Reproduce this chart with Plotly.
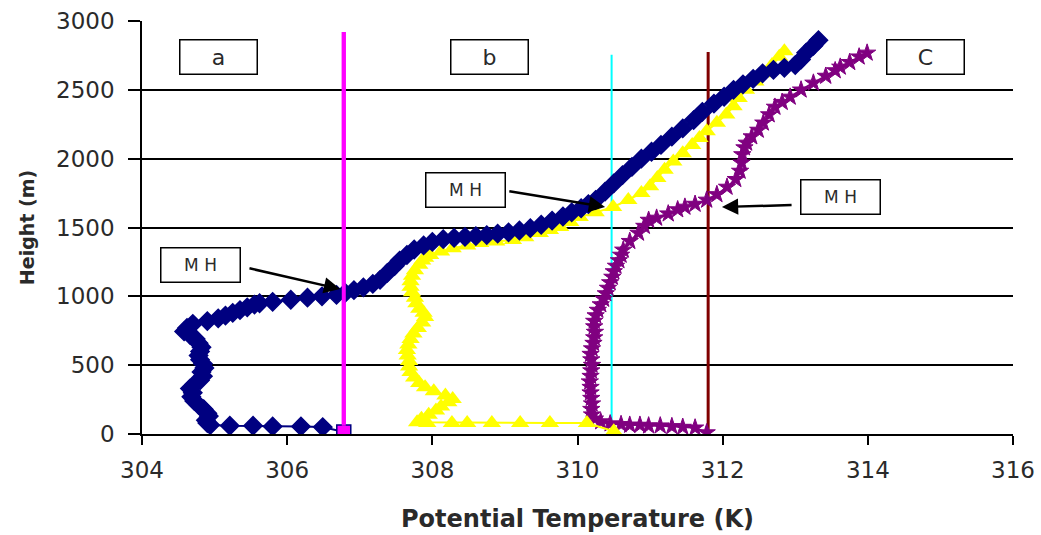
import plotly.graph_objects as go

# ---------------- data ----------------
# Profile a (navy, diamonds): potential temperature (K) and height (m)
a_theta = [306.78, 306.49, 306.19, 305.80, 305.53, 305.21, 304.94, 304.90, 304.88, 304.92,
           304.90, 304.85, 304.78, 304.72, 304.68, 304.70, 304.66, 304.72, 304.80, 304.84,
           304.82, 304.86, 304.84, 304.80, 304.78, 304.80, 304.82, 304.78, 304.74, 304.66,
           304.58, 304.62, 304.70, 304.90, 305.05, 305.15, 305.25, 305.35, 305.45, 305.55,
           305.62, 305.80, 306.05, 306.28, 306.48, 306.68, 306.80, 306.92, 307.05, 307.18,
           307.28, 307.38, 307.48, 307.55, 307.65, 307.75, 307.88, 308.00, 308.15, 308.30,
           308.45, 308.60, 308.75, 308.90, 309.05, 309.20, 309.35, 309.50, 309.65, 309.80,
           309.92, 310.05, 310.15, 310.25, 310.38, 310.50, 310.62, 310.75, 310.88, 311.02,
           311.15, 311.30, 311.45, 311.60, 311.72, 311.88, 312.02, 312.15, 312.28, 312.42,
           312.55, 312.70, 312.85, 313.00, 313.08, 313.15, 313.25, 313.32]
a_height = [15, 50, 55, 55, 60, 60, 65, 80, 100, 130,
            150, 180, 210, 240, 270, 300, 330, 360, 390, 420,
            450, 480, 510, 540, 570, 600, 630, 660, 690, 720,
            745, 770, 800, 820, 840, 860, 880, 900, 920, 940,
            950, 960, 975, 990, 1000, 1010, 1025, 1045, 1065, 1090,
            1120, 1170, 1220, 1260, 1300, 1340, 1370, 1395, 1415, 1425,
            1432, 1438, 1445, 1455, 1465, 1478, 1495, 1520, 1550, 1580,
            1610, 1640, 1670, 1700, 1760, 1820, 1880, 1940, 2000, 2050,
            2100, 2160, 2220, 2280, 2340, 2400, 2450, 2500, 2540, 2580,
            2620, 2645, 2660, 2680, 2720, 2770, 2820, 2860]

# Profile b (yellow, triangles)
b_theta = [310.50, 310.13, 309.62, 309.21, 308.82, 308.48, 308.27, 307.93, 307.79, 307.85,
           307.95, 308.05, 308.12, 308.22, 308.28, 308.18, 308.02, 307.90, 307.82, 307.75,
           307.70, 307.68, 307.68, 307.66, 307.65, 307.67, 307.70, 307.74, 307.80, 307.86,
           307.90, 307.88, 307.82, 307.78, 307.76, 307.72, 307.70, 307.70, 307.72, 307.76,
           307.82, 307.86, 307.90, 307.97, 308.12, 308.28, 308.48, 308.66, 308.88, 309.11,
           309.28, 309.48, 309.62, 309.76, 309.90, 310.03, 310.25, 310.49, 310.70, 310.88,
           311.00, 311.10, 311.20, 311.32, 311.45, 311.58, 311.68, 311.78, 311.92, 312.05,
           312.15, 312.22, 312.32, 312.45, 312.58, 312.68, 312.78, 312.85]
b_height = [20, 80, 80, 80, 80, 80, 80, 80, 85, 110,
            140, 170, 200, 230, 255, 280, 310, 340, 370, 410,
            450, 490, 530, 570, 610, 650, 690, 730, 770, 810,
            850, 880, 910, 950, 990, 1030, 1070, 1110, 1150, 1190,
            1230, 1260, 1280, 1300, 1325, 1350, 1370, 1387, 1398, 1409,
            1430, 1460, 1482, 1504, 1540, 1576, 1610, 1649, 1700, 1750,
            1800, 1860, 1920, 1980, 2040, 2100, 2150, 2200, 2260, 2320,
            2380, 2440, 2500, 2560, 2620, 2680, 2740, 2780]

# Profile c (purple, stars)
c_theta = [311.78, 311.62, 311.45, 311.30, 311.14, 310.98, 310.86, 310.72, 310.60, 310.45,
           310.32, 310.24, 310.20, 310.19, 310.20, 310.19, 310.18, 310.18, 310.17, 310.18,
           310.19, 310.20, 310.19, 310.18, 310.20, 310.22, 310.23, 310.24, 310.23, 310.23,
           310.25, 310.28, 310.32, 310.36, 310.39, 310.42, 310.45, 310.48, 310.50, 310.53,
           310.57, 310.60, 310.63, 310.72, 310.84, 310.92, 310.98, 311.09, 311.25, 311.38,
           311.48, 311.62, 311.78, 311.92, 312.06, 312.18, 312.24, 312.26, 312.27, 312.30,
           312.33, 312.40, 312.49, 312.56, 312.64, 312.72, 312.82, 312.93, 313.08, 313.25,
           313.42, 313.55, 313.62, 313.75, 313.88, 313.99]
c_height = [10, 45, 50, 55, 60, 60, 65, 65, 70, 75,
            90, 110, 140, 180, 220, 260, 300, 340, 380, 420,
            460, 500, 540, 580, 620, 660, 700, 740, 780, 820,
            860, 900, 940, 980, 1020, 1060, 1100, 1140, 1180, 1220,
            1260, 1300, 1337, 1400, 1460, 1510, 1554, 1569, 1600, 1630,
            1649, 1670, 1700, 1740, 1794, 1850, 1910, 1970, 2030, 2080,
            2114, 2160, 2208, 2260, 2320, 2375, 2410, 2448, 2500, 2550,
            2600, 2640, 2666, 2700, 2740, 2768]

# Mixing height (MH) vertical lines
mh_a_theta = [306.78, 306.78]
mh_a_height = [15, 2920]
mh_b_theta = [310.47, 310.47]
mh_b_height = [0, 2755]
mh_c_theta = [311.80, 311.80]
mh_c_height = [0, 2775]

# Label boxes
panel_labels = ["a", "b", "C"]
panel_x = [305.06, 308.79, 314.80]
panel_y = [2739, 2739, 2739]
mh_label_x = [304.80, 308.45, 313.62]
mh_label_y = [1228, 1772, 1721]
arrow_tail_x = [305.46, 309.04, 312.97]
arrow_tail_y = [1206, 1765, 1663]
arrow_head_x = [306.73, 310.38, 311.99]
arrow_head_y = [1053, 1649, 1649]

x_ticks = [304, 306, 308, 310, 312, 314, 316]
y_ticks = [0, 500, 1000, 1500, 2000, 2500, 3000]

NAVY = "#000080"
YELLOW = "#FFFF00"
PURPLE = "#800080"
FONT = "DejaVu Sans"
TXT = "#2a2a2a"

fig = go.Figure()

# vertical MH lines
fig.add_trace(go.Scatter(x=mh_a_theta, y=mh_a_height, mode="lines",
                         line=dict(color="#FF00FF", width=4), hoverinfo="skip"))
fig.add_trace(go.Scatter(x=mh_b_theta, y=mh_b_height, mode="lines",
                         line=dict(color="#00FFFF", width=2), hoverinfo="skip"))
fig.add_trace(go.Scatter(x=mh_c_theta, y=mh_c_height, mode="lines",
                         line=dict(color="#800000", width=3), hoverinfo="skip"))

# profile c
fig.add_trace(go.Scatter(x=c_theta, y=c_height, mode="lines+markers",
                         line=dict(color=PURPLE, width=2),
                         marker=dict(symbol="star", size=13, color=PURPLE,
                                     line=dict(color=PURPLE, width=1))))
# profile b
fig.add_trace(go.Scatter(x=b_theta, y=b_height, mode="lines+markers",
                         line=dict(color=YELLOW, width=2),
                         marker=dict(symbol="triangle-up", size=16, color=YELLOW)))
# profile a
a_symbols = ["square"] + ["diamond"] * (len(a_theta) - 1)
a_colors = ["#FF00FF"] + [NAVY] * (len(a_theta) - 1)
fig.add_trace(go.Scatter(x=a_theta, y=a_height, mode="lines+markers",
                         line=dict(color=NAVY, width=2),
                         marker=dict(symbol=a_symbols, size=14, color=a_colors,
                                     line=dict(color=NAVY, width=1.5))))

# MH line a drawn again on top of the navy profile, as in the reference
fig.add_trace(go.Scatter(x=mh_a_theta, y=[60, mh_a_height[1]], mode="lines",
                         line=dict(color="#FF00FF", width=4), hoverinfo="skip"))

annotations = []
for t, x, y in zip(panel_labels, panel_x, panel_y):
    annotations.append(dict(x=x, y=y, xref="x", yref="y", text=t, showarrow=False,
                            font=dict(family=FONT, size=22, color=TXT),
                            bordercolor="black", borderwidth=1.5, bgcolor="white",
                            width=74, height=31, borderpad=1))
for x, y in zip(mh_label_x, mh_label_y):
    annotations.append(dict(x=x, y=y, xref="x", yref="y", text="M H", showarrow=False,
                            font=dict(family=FONT, size=17, color=TXT),
                            bordercolor="black", borderwidth=1.5, bgcolor="white",
                            width=76, height=31, borderpad=1))
for tx, ty, hx, hy in zip(arrow_tail_x, arrow_tail_y, arrow_head_x, arrow_head_y):
    annotations.append(dict(x=hx, y=hy, ax=tx, ay=ty, xref="x", yref="y",
                            axref="x", ayref="y", text="", showarrow=True,
                            arrowhead=2, arrowsize=1.3, arrowwidth=2.5, arrowcolor="black"))

fig.update_layout(
    width=1041, height=535,
    margin=dict(l=142, r=28, t=21, b=101),
    paper_bgcolor="white", plot_bgcolor="white",
    showlegend=False,
    annotations=annotations,
    xaxis=dict(range=[304, 316], tickvals=x_ticks, ticktext=[str(v) for v in x_ticks],
               automargin=False, ticklabeloverflow="allow",
               showgrid=False, zeroline=False, showline=True, linecolor="black", linewidth=1.5,
               ticks="outside", ticklen=9, tickwidth=1.5, tickcolor="black",
               ticklabelstandoff=6,
               tickfont=dict(family=FONT, size=23, color=TXT),
               title=dict(text="<b>Potential Temperature (K)</b>", standoff=28,
                          font=dict(family=FONT, size=24, color=TXT))),
    yaxis=dict(range=[0, 3000], tickvals=y_ticks, ticktext=[str(v) for v in y_ticks],
               automargin=False, ticklabeloverflow="allow",
               showgrid=True, gridcolor="black", gridwidth=1.5, zeroline=False,
               showline=True, linecolor="black", linewidth=1.5,
               ticks="outside", ticklen=12, tickwidth=1.5, tickcolor="black",
               ticklabelstandoff=9,
               tickfont=dict(family=FONT, size=23, color=TXT),
               title=dict(text="<b>Height (m)</b>", standoff=16,
                          font=dict(family=FONT, size=19, color=TXT))),
)

# remove the default 8px page margin so the 1041x535 figure fills the window exactly
fig.write_html("out.html", config={"displayModeBar": False},
               post_script="document.body.style.margin='0';")
